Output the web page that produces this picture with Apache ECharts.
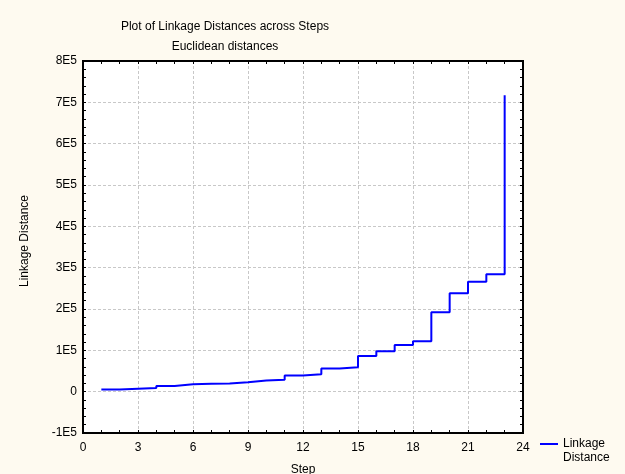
<!DOCTYPE html>
<html>
<head>
<meta charset="utf-8">
<script src="https://cdn.jsdelivr.net/npm/echarts@6/dist/echarts.min.js"></script>
<style>
html,body{margin:0;padding:0;background:#fefaf0;}
#c{width:625px;height:474px;}
</style>
</head>
<body>
<div id="c"></div>
<script>
var titleText = 'Plot of Linkage Distances across Steps';
var subtitleText = 'Euclidean distances';
var xAxisName = 'Step';
var yAxisName = 'Linkage Distance';
var seriesName = 'Linkage Distance';
var steps = [1,2,3,4,5,6,7,8,9,10,11,12,13,14,15,16,17,18,19,20,21,22,23];
var linkageDistance = [5000,7000,9000,14000,18000,19000,20000,23000,27000,29000,39000,42000,56000,59000,86000,98000,113000,122000,192000,238000,266000,284000,717000];

var font = 'Liberation Sans';
var chart = echarts.init(document.getElementById('c'));
var data = steps.map(function(s,i){return [s, linkageDistance[i]];});
function yfmt(v){ if (v === 0) return '0'; return (Math.round(v/1e5)) + 'E5'; }
var tickStyle = {show:true, inside:true, length:3, lineStyle:{color:'#000', width:1}};
chart.setOption({
  backgroundColor:'#fefaf0',
  animation:false,
  title:[
    {text:titleText, left:220, top:16, textAlign:'center', textStyle:{fontFamily:font, fontSize:12, fontWeight:'normal', color:'#000'}},
    {text:subtitleText, left:220, top:36, textAlign:'center', textStyle:{fontFamily:font, fontSize:12, fontWeight:'normal', color:'#000'}}
  ],
  grid:{left:83, right:102, top:61, bottom:41, show:true, backgroundColor:'#ffffff', borderColor:'#000', borderWidth:2, outerBoundsMode:'none', containLabel:false},
  legend:{
    left:540, top:437, padding:0, selectedMode:false,
    icon:'path://M0,0L18,0L18,2L0,2Z M0,16L0.001,16Z', itemWidth:18, itemHeight:16, itemGap:0,
    data:[{name:seriesName}],
    formatter:function(){ return 'Linkage\nDistance'; },
    textStyle:{fontFamily:font, fontSize:12, color:'#000', lineHeight:14}
  },
  xAxis:[
    {type:'value', min:0, max:24, interval:3, position:'bottom',
     name:xAxisName, nameLocation:'middle', nameGap:31, nameTextStyle:{fontFamily:font, fontSize:12, color:'#000'},
     axisLine:{show:true, onZero:false, lineStyle:{color:'#000', width:2}},
     axisTick:tickStyle, minorTick:{show:true, splitNumber:3, length:3, lineStyle:{color:'#000'}},
     axisLabel:{fontFamily:font, fontSize:12, color:'#000', margin:9},
     splitLine:{show:true, lineStyle:{color:'#c8c8c8', type:[3,2], width:1}}},
    {type:'value', min:0, max:24, interval:3, position:'top',
     axisLine:{show:true, onZero:false, lineStyle:{color:'#000', width:2}},
     axisTick:tickStyle, minorTick:{show:true, splitNumber:3, length:3, lineStyle:{color:'#000'}},
     axisLabel:{show:false}, splitLine:{show:false}}
  ],
  yAxis:[
    {type:'value', min:-100000, max:800000, interval:100000, position:'left',
     name:yAxisName, nameLocation:'middle', nameGap:52, nameTextStyle:{fontFamily:font, fontSize:12, color:'#000', padding:[0,0,0,12]},
     axisLine:{show:true, onZero:false, lineStyle:{color:'#000', width:2}},
     axisTick:tickStyle, minorTick:{show:true, splitNumber:5, length:3, lineStyle:{color:'#000'}},
     axisLabel:{fontFamily:font, fontSize:12, color:'#000', margin:6, formatter:yfmt},
     splitLine:{show:true, lineStyle:{color:'#c8c8c8', type:[3,2], width:1}}},
    {type:'value', min:-100000, max:800000, interval:100000, position:'right',
     axisLine:{show:true, onZero:false, lineStyle:{color:'#000', width:2}},
     axisTick:tickStyle, minorTick:{show:true, splitNumber:5, length:3, lineStyle:{color:'#000'}},
     axisLabel:{show:false}, splitLine:{show:false}}
  ],
  series:[{
    name:seriesName, type:'line', step:'end', data:data, xAxisIndex:0, yAxisIndex:0,
    showSymbol:false, symbol:'none', lineStyle:{color:'#0000ff', width:2}, itemStyle:{color:'#0000ff'}
  }]
});
</script>
</body>
</html>
